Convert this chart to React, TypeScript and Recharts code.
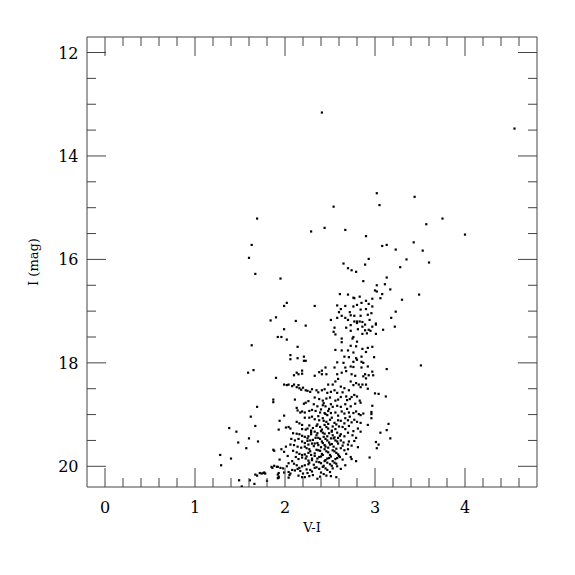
import React from 'react';
import { ScatterChart, Scatter, XAxis, YAxis, ReferenceArea, Label } from 'recharts';

// colour index V-I against I magnitude
const brightStars = [
  [2.41, 13.16], [4.55, 13.47], [3.02, 14.72], [3.44, 14.79], [2.54, 14.98], [3.05, 14.95],
  [3.75, 15.21], [3.57, 15.32], [2.29, 15.46], [2.44, 15.39], [2.67, 15.43], [2.9, 15.55],
  [4.0, 15.52], [3.08, 15.74], [3.13, 15.72], [3.23, 15.81], [3.43, 15.67], [3.53, 15.83],
  [2.93, 15.99], [3.35, 16.0], [3.6, 16.06], [3.49, 16.68], [3.51, 18.05],
];

const blueStars = [
  [1.69, 15.21], [1.63, 15.72], [1.6, 15.97], [1.67, 16.28], [1.9, 17.12], [1.84, 17.18],
  [1.92, 17.5], [1.63, 17.66], [1.59, 18.19], [1.65, 18.14], [1.9, 18.29], [1.87, 18.71],
  [1.87, 18.76], [1.69, 18.85], [1.93, 19.29], [1.62, 19.04], [1.67, 19.22], [1.38, 19.26],
  [1.46, 19.33], [1.6, 19.46], [1.48, 19.54], [1.7, 19.52], [1.57, 19.65], [1.88, 19.7],
  [1.28, 19.78], [1.4, 19.85], [1.29, 19.98], [1.92, 20.01], [1.86, 20.03], [1.93, 20.13],
  [1.67, 20.16], [1.69, 20.18], [1.72, 20.13], [1.74, 20.14], [1.77, 20.12], [1.92, 20.23],
  [1.93, 20.22], [1.49, 20.27], [1.61, 20.27], [1.8, 20.28], [1.66, 20.34], [1.52, 20.39],
  [1.76, 20.13], [1.78, 20.14],
];

const upperBranch = [
  [2.65, 16.08], [2.7, 16.17], [2.74, 16.21], [2.79, 16.24], [2.89, 16.1], [3.28, 16.15],
  [1.95, 16.37], [2.87, 16.42], [3.13, 16.35], [3.02, 16.5], [3.11, 16.48], [3.17, 16.58],
  [3.0, 16.6], [3.02, 16.62], [2.61, 16.67], [2.7, 16.68], [2.76, 16.74], [2.77, 16.75],
  [2.83, 16.72], [2.97, 16.76], [3.08, 16.67], [3.06, 16.75], [3.3, 16.78], [2.02, 16.84],
  [1.99, 16.9], [2.33, 16.9], [2.58, 16.89], [2.67, 16.9], [2.76, 16.91], [2.8, 16.88],
  [2.85, 16.84], [2.9, 16.8], [2.93, 16.86], [2.97, 16.91], [2.9, 16.96], [2.62, 16.96],
  [2.6, 17.02], [2.72, 17.02], [2.84, 16.97], [2.96, 17.04], [3.23, 17.01], [2.63, 17.09],
  [2.73, 17.08], [2.77, 17.09], [2.84, 17.09], [2.92, 17.07], [2.58, 17.13], [2.51, 17.17],
  [2.12, 17.19], [2.67, 17.13], [2.7, 17.17], [2.77, 17.2], [2.8, 17.2], [2.83, 17.2],
  [2.86, 17.21], [2.8, 17.23], [2.94, 17.17], [3.01, 17.24], [3.01, 17.26], [3.18, 17.13],
  [2.73, 17.27], [2.86, 17.3], [2.89, 17.26], [2.97, 17.3], [2.23, 17.28], [1.99, 17.35],
  [2.55, 17.32], [2.68, 17.32], [3.22, 17.3], [2.81, 17.35], [2.54, 17.4], [2.73, 17.38],
  [2.89, 17.37], [2.93, 17.36], [2.95, 17.38], [3.09, 17.36], [2.86, 17.44], [2.56, 17.45],
  [2.91, 17.43], [3.01, 17.44], [2.76, 17.5], [2.75, 17.53], [1.96, 17.5], [2.02, 17.55],
  [2.63, 17.53], [2.63, 17.6], [2.8, 17.59], [2.14, 17.69], [2.73, 17.67], [2.79, 17.68],
  [2.97, 17.69], [2.56, 17.75], [2.63, 17.76], [2.7, 17.76], [2.86, 17.73], [2.92, 17.71],
  [2.9, 17.79], [2.76, 17.8], [2.06, 17.85], [2.21, 17.88], [2.66, 17.88], [2.71, 17.89],
  [2.79, 17.91], [2.85, 17.88], [2.99, 17.89], [2.06, 17.93], [2.14, 17.91], [2.21, 17.96],
  [2.23, 17.96], [2.58, 17.99], [2.65, 18.0], [2.76, 17.98], [2.8, 17.94], [2.85, 17.98],
  [2.87, 18.0], [2.45, 18.09], [2.55, 18.09], [2.67, 18.09], [2.73, 18.07], [2.76, 18.08],
  [2.85, 18.09], [2.92, 18.07], [3.13, 18.12],
];

const clumpLeft = [
  [2.1, 18.24], [2.13, 18.19], [2.15, 18.22], [2.19, 18.15], [2.19, 18.21], [1.99, 18.42],
  [2.02, 18.43], [2.04, 18.42], [2.08, 18.45], [2.1, 18.42], [2.13, 18.47], [2.15, 18.43],
  [2.16, 18.49], [2.18, 18.52], [2.2, 18.48], [2.23, 18.53], [2.25, 18.54], [2.28, 18.56],
  [2.3, 18.51], [2.11, 18.71], [2.21, 18.79], [2.23, 18.77], [2.26, 18.74], [2.13, 18.87],
  [2.14, 18.92], [2.17, 18.96], [2.19, 18.94], [2.22, 18.96], [2.27, 18.93], [2.3, 18.91],
  [1.99, 19.02], [2.22, 19.06], [2.27, 19.06], [2.3, 19.04], [1.94, 19.12], [2.13, 19.14],
  [2.16, 19.17], [2.19, 19.2], [2.01, 19.25], [2.04, 19.24], [2.06, 19.27], [2.19, 19.28],
  [2.23, 19.29], [2.25, 19.27], [2.29, 19.31], [2.09, 19.36], [2.13, 19.37], [2.16, 19.38],
  [2.19, 19.41], [2.22, 19.43], [2.26, 19.42], [2.29, 19.38], [2.07, 19.47], [2.11, 19.5],
  [2.15, 19.47], [2.19, 19.52], [2.22, 19.55], [2.25, 19.51], [2.28, 19.5], [2.3, 19.56],
  [2.1, 19.59], [2.14, 19.62], [2.18, 19.64], [2.22, 19.62], [2.24, 19.65], [2.27, 19.67],
  [1.87, 19.68], [1.96, 19.67], [1.99, 19.72], [2.13, 19.73], [2.16, 19.76], [2.19, 19.78],
  [2.22, 19.77], [2.26, 19.74], [2.29, 19.78], [2.12, 19.82], [2.15, 19.86], [2.19, 19.83],
  [2.23, 19.85], [2.26, 19.89], [2.3, 19.85], [1.94, 19.87], [2.04, 19.94], [2.1, 19.95],
  [2.13, 19.98], [2.16, 20.03], [2.19, 20.0], [2.22, 19.98], [2.26, 19.96], [1.85, 20.01],
  [1.88, 19.99], [1.91, 20.01], [1.95, 20.03], [1.98, 20.04], [2.02, 20.0], [1.92, 20.16],
  [1.93, 20.2], [2.04, 20.11], [2.05, 20.17], [2.08, 20.07], [2.14, 20.05], [2.17, 20.09],
  [2.2, 20.14], [2.25, 20.13], [2.28, 20.07], [2.19, 20.21], [2.22, 20.21], [2.04, 20.22],
];

const clumpMiddle = [
  [2.33, 18.25], [2.38, 18.18], [2.41, 18.15], [2.41, 18.22], [2.46, 18.22], [2.48, 18.42],
  [2.53, 18.42], [2.56, 18.36], [2.58, 18.22], [2.59, 18.31], [2.35, 18.53], [2.37, 18.57],
  [2.41, 18.53], [2.44, 18.51], [2.47, 18.58], [2.51, 18.56], [2.55, 18.53], [2.58, 18.58],
  [2.33, 18.67], [2.38, 18.7], [2.42, 18.73], [2.46, 18.69], [2.5, 18.67], [2.56, 18.73],
  [2.59, 18.71], [2.32, 18.8], [2.36, 18.84], [2.42, 18.82], [2.45, 18.84], [2.49, 18.89],
  [2.53, 18.85], [2.58, 18.83], [2.34, 18.93], [2.39, 18.96], [2.44, 18.97], [2.47, 19.01],
  [2.51, 18.97], [2.56, 18.96], [2.59, 19.02], [2.33, 19.09], [2.38, 19.11], [2.42, 19.07],
  [2.46, 19.14], [2.5, 19.1], [2.55, 19.16], [2.59, 19.11], [2.35, 19.22], [2.39, 19.24],
  [2.44, 19.2], [2.48, 19.27], [2.53, 19.23], [2.56, 19.28], [2.6, 19.23], [2.33, 19.33],
  [2.36, 19.36], [2.4, 19.32], [2.44, 19.37], [2.49, 19.36], [2.53, 19.4], [2.58, 19.35],
  [2.34, 19.45], [2.39, 19.47], [2.43, 19.43], [2.47, 19.5], [2.51, 19.46], [2.56, 19.5],
  [2.59, 19.45], [2.33, 19.56], [2.37, 19.59], [2.42, 19.55], [2.45, 19.62], [2.5, 19.58],
  [2.54, 19.62], [2.59, 19.56], [2.35, 19.68], [2.39, 19.7], [2.44, 19.67], [2.48, 19.73],
  [2.53, 19.69], [2.57, 19.74], [2.33, 19.8], [2.38, 19.82], [2.42, 19.78], [2.47, 19.85],
  [2.51, 19.81], [2.56, 19.86], [2.6, 19.8], [2.35, 19.91], [2.4, 19.94], [2.44, 19.9],
  [2.5, 19.96], [2.55, 19.93], [2.33, 20.03], [2.38, 20.05], [2.42, 20.01], [2.47, 20.07],
  [2.53, 20.04], [2.58, 20.0], [2.39, 20.2], [2.46, 20.18], [2.57, 20.21],
];

const clumpCore = [
  [2.27, 19.21], [2.31, 19.26], [2.36, 19.19], [2.41, 19.29], [2.46, 19.24], [2.52, 19.31],
  [2.57, 19.19], [2.29, 19.34], [2.35, 19.4], [2.42, 19.35], [2.47, 19.42], [2.52, 19.33],
  [2.55, 19.44], [2.61, 19.41], [2.25, 19.46], [2.31, 19.49], [2.37, 19.45], [2.41, 19.52],
  [2.45, 19.47], [2.49, 19.54], [2.54, 19.46], [2.58, 19.52], [2.26, 19.58], [2.32, 19.61],
  [2.36, 19.55], [2.4, 19.63], [2.44, 19.59], [2.48, 19.64], [2.52, 19.57], [2.57, 19.66],
  [2.28, 19.71], [2.33, 19.75], [2.37, 19.69], [2.41, 19.76], [2.46, 19.71], [2.5, 19.78],
  [2.55, 19.71], [2.59, 19.77], [2.24, 19.81], [2.3, 19.88], [2.36, 19.85], [2.4, 19.81],
  [2.45, 19.88], [2.49, 19.84], [2.53, 19.9], [2.58, 19.84], [2.27, 19.93], [2.32, 19.97],
  [2.38, 19.92], [2.43, 19.99], [2.47, 19.93], [2.52, 19.99], [2.57, 19.95], [2.24, 20.06],
  [2.3, 20.1], [2.35, 20.02], [2.4, 20.12], [2.45, 20.04], [2.5, 20.11], [2.62, 20.05],
  [2.31, 20.17], [2.36, 20.24], [2.43, 20.15], [2.51, 20.19], [2.48, 19.18], [2.43, 19.12],
  [2.37, 19.03], [2.45, 18.99], [2.52, 19.06], [2.4, 18.9], [2.48, 18.93], [2.43, 18.78],
  [2.51, 18.8], [2.06, 19.58], [2.09, 19.7], [2.03, 19.8], [2.08, 19.9], [2.01, 19.62],
  [2.11, 20.08], [2.06, 20.14], [2.15, 20.18], [2.27, 20.19], [1.99, 20.12], [2.64, 19.6],
  [2.68, 19.76], [2.71, 19.52], [2.66, 19.17], [2.72, 19.04], [2.69, 18.72], [2.64, 18.57],
  [2.78, 18.79], [2.71, 18.53],
];

const clumpRight = [
  [2.63, 18.19], [2.68, 18.16], [2.74, 18.22], [2.78, 18.25], [2.87, 18.26], [2.89, 18.22],
  [2.62, 18.46], [2.66, 18.49], [2.73, 18.36], [2.76, 18.43], [2.79, 18.39], [2.82, 18.42],
  [2.84, 18.47], [2.86, 18.42], [2.62, 18.66], [2.68, 18.65], [2.72, 18.7], [2.74, 18.66],
  [2.77, 18.62], [2.8, 18.65], [2.83, 18.73], [2.84, 18.77], [2.62, 18.85], [2.67, 18.8],
  [2.69, 18.89], [2.73, 18.84], [2.79, 18.94], [2.82, 18.99], [2.63, 18.94], [2.66, 18.98],
  [2.71, 18.96], [2.76, 18.97], [2.84, 19.01], [2.87, 18.98], [2.62, 19.12], [2.67, 19.07],
  [2.7, 19.11], [2.74, 19.15], [2.77, 19.1], [2.8, 19.14], [2.84, 19.16], [2.64, 19.24],
  [2.67, 19.28], [2.71, 19.22], [2.76, 19.32], [2.81, 19.27], [2.84, 19.33], [2.62, 19.38],
  [2.66, 19.42], [2.7, 19.35], [2.75, 19.4], [2.79, 19.45], [2.62, 19.5], [2.65, 19.54],
  [2.7, 19.58], [2.74, 19.6], [2.77, 19.51], [2.81, 19.63], [2.62, 19.65], [2.66, 19.69],
  [2.7, 19.67], [2.61, 19.82], [2.64, 19.87], [2.73, 19.82], [2.74, 19.86], [2.79, 19.9],
  [2.67, 19.98],
];

const redTail = [
  [2.97, 18.17], [2.93, 18.24], [2.98, 18.24], [2.9, 18.3], [2.9, 18.42], [2.92, 18.5],
  [3.0, 18.59], [3.04, 18.6], [3.12, 18.65], [2.97, 18.83], [2.96, 18.95], [2.96, 18.99],
  [2.96, 19.07], [2.92, 19.2], [3.15, 19.18], [3.13, 19.3], [3.06, 19.35], [3.17, 19.46],
  [3.01, 19.53], [3.04, 19.58], [3.02, 19.65], [2.94, 19.83],
];

const xTicks = [0, 0.2, 0.4, 0.6, 0.8, 1, 1.2, 1.4, 1.6, 1.8, 2, 2.2, 2.4, 2.6, 2.8, 3, 3.2, 3.4, 3.6, 3.8, 4, 4.2, 4.4, 4.6];
const yTicks = [12, 12.5, 13, 13.5, 14, 14.5, 15, 15.5, 16, 16.5, 17, 17.5, 18, 18.5, 19, 19.5, 20];

const stars = [
  ...brightStars, ...blueStars, ...upperBranch, ...clumpLeft,
  ...clumpMiddle, ...clumpCore, ...clumpRight, ...redTail,
].map(([vi, mag]) => ({ vi, mag }));

const FONT = '"DejaVu Serif", serif';
const INK = '#444';
const PLOT_TOP = 29;
const PLOT_RIGHT = 529;

const XTick = (props: any) => {
  const { x, y, payload } = props;
  const v = payload.value;
  const major = Math.abs(v - Math.round(v)) < 1e-6;
  const len = major ? 19 : 9;
  return (
    <g>
      <line x1={x} x2={x} y1={y} y2={y - len} stroke={INK} />
      <line x1={x} x2={x} y1={PLOT_TOP} y2={PLOT_TOP + len} stroke={INK} />
      {major && (
        <text x={x} y={y + 25.5} textAnchor="middle" fontFamily={FONT} fontSize={16} fill="#000">
          {Math.round(v)}
        </text>
      )}
    </g>
  );
};

const YTick = (props: any) => {
  const { x, y, payload } = props;
  const v = payload.value;
  const major = v % 2 === 0;
  const len = major ? 19 : 9;
  return (
    <g>
      <line x1={x} x2={x + len} y1={y} y2={y} stroke={INK} />
      <line x1={PLOT_RIGHT} x2={PLOT_RIGHT - len} y1={y} y2={y} stroke={INK} />
      {major && (
        <text x={x - 8.5} y={y + 6} textAnchor="end" fontFamily={FONT} fontSize={16} fill="#000">
          {v}
        </text>
      )}
    </g>
  );
};

const Dot = (props: any) => (
  <rect x={props.cx - 1.1} y={props.cy - 1.1} width={2.2} height={2.2} fill="#000" />
);

export default function App() {
  return (
    <div style={{ width: 559, height: 559 }}>
      <ScatterChart width={559} height={559} margin={{ top: 29, right: 30, bottom: 20, left: 19 }}>
        <XAxis
          type="number"
          dataKey="vi"
          domain={[-0.2, 4.8]}
          ticks={xTicks}
          interval={0}
          allowDataOverflow
          height={60}
          axisLine={false}
          tickLine={false}
          tickSize={0}
          tickMargin={0}
          tick={<XTick />}
        >
          <Label
            content={(p: any) => (
              <text x={p.viewBox.x + p.viewBox.width / 2} y={p.viewBox.y + 45} textAnchor="middle" fontFamily={FONT} fontSize={13} fill="#000">
                V-I
              </text>
            )}
          />
        </XAxis>
        <YAxis
          type="number"
          dataKey="mag"
          domain={[11.7, 20.4]}
          reversed
          ticks={yTicks}
          interval={0}
          allowDataOverflow
          width={60}
          axisLine={false}
          tickLine={false}
          tickSize={0}
          tickMargin={0}
          tick={<YTick />}
        >
          <Label
            content={(p: any) => {
              const cx = p.viewBox.x + 10.5;
              const cy = p.viewBox.y + p.viewBox.height / 2;
              return (
                <text x={cx} y={cy} transform={`rotate(-90, ${cx}, ${cy})`} textAnchor="middle" fontFamily={FONT} fontSize={13} fill="#000">
                  I (mag)
                </text>
              );
            }}
          />
        </YAxis>
        <ReferenceArea x1={-0.2} x2={4.8} y1={11.7} y2={20.4} fill="none" fillOpacity={0} stroke={INK} strokeWidth={1} />
        <Scatter data={stars} shape={<Dot />} isAnimationActive={false} />
      </ScatterChart>
    </div>
  );
}
